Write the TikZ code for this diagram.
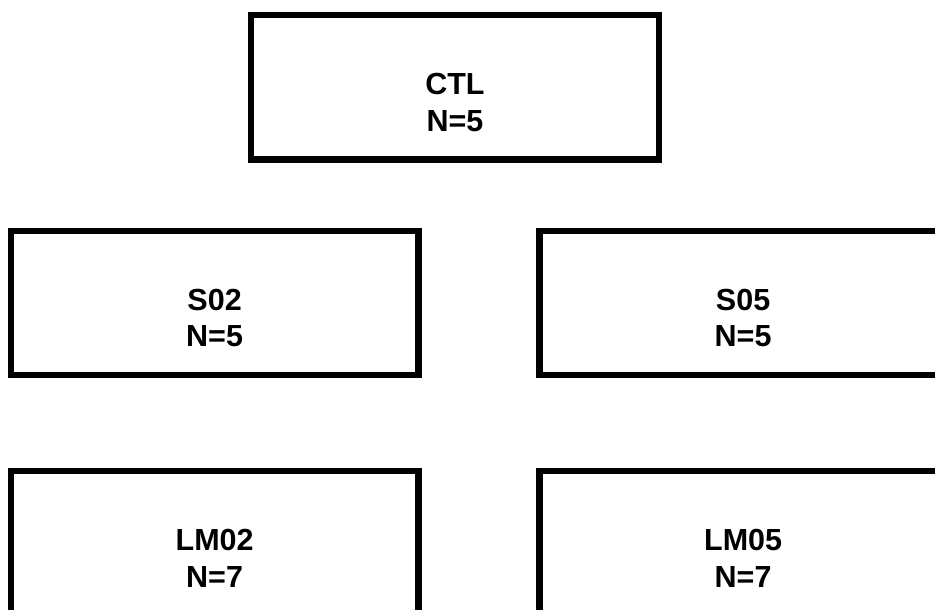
\documentclass[tikz,border=0pt]{standalone}
\usepackage{fontspec}
\setmainfont{Liberation Sans}
\begin{document}
\begin{tikzpicture}[x=1pt,y=-1pt,
  grpbox/.style={draw=black,line width=6.5pt,rectangle,minimum width=407.7pt,minimum height=144.3pt,inner sep=0pt,outer sep=0pt},
  lbl/.style={font=\fontsize{30.5}{36.7}\selectfont\bfseries,align=center,inner sep=0pt,yshift=-15.2pt}]
\useasboundingbox (0,0) rectangle (935,610);
\fill[white] (0,0) rectangle (935,610);
\clip (0,0) rectangle (935,610);
\node[grpbox,label={[lbl]center:CTL\\N=5}] (ctl) at (454.9,87.2) {};
\node[grpbox,label={[lbl]center:S02\\N=5}] (s02) at (214.6,302.9) {};
\node[grpbox,label={[lbl]center:S05\\N=5}] (s05) at (743.1,302.9) {};
\node[grpbox,label={[lbl]center:LM02\\N=7}] (lm02) at (214.6,542.9) {};
\node[grpbox,label={[lbl]center:LM05\\N=7}] (lm05) at (743.1,542.9) {};
\end{tikzpicture}
\end{document}
